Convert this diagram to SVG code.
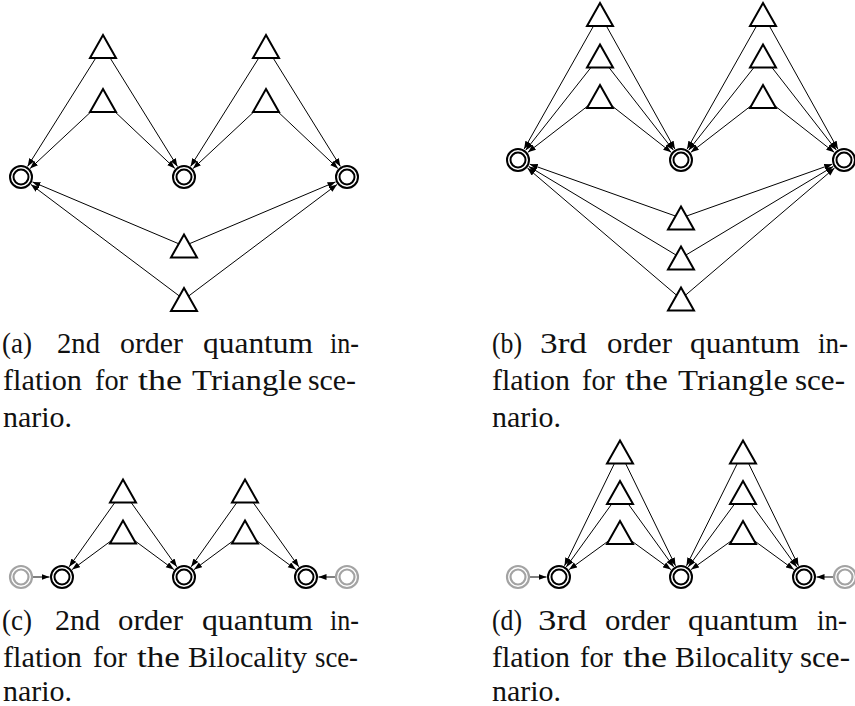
<svg xmlns="http://www.w3.org/2000/svg" xmlns:xlink="http://www.w3.org/1999/xlink" width="855" height="706" viewBox="0 0 855 706">
<style>
.e{stroke:#000;stroke-width:1;fill:none;marker-end:url(#ah)}
.tri{fill:#fff;stroke:#000;stroke-width:2;stroke-linejoin:miter}
.ro{fill:#fff;stroke:#000;stroke-width:2}
.ri{fill:none;stroke:#000;stroke-width:2}
.rog{fill:#fff;stroke:#a3a3a3;stroke-width:2.2}
.rig{fill:none;stroke:#a3a3a3;stroke-width:2.2}
.cap{font-family:'Liberation Serif','Times New Roman',serif;font-size:30px;fill:#111}
</style>
<defs>
<marker id="ah" markerUnits="userSpaceOnUse" markerWidth="9" markerHeight="7" refX="8" refY="3" orient="auto">
<path d="M0,0 L8,3 L0,6 z" fill="#000"/>
</marker>
<path id="tri" class="tri" d="M0,-11.5 L13,11.5 L-13,11.5 Z"/>
<g id="dc"><circle class="ro" r="11"/><circle class="ri" r="7.5"/></g>
<g id="dcg"><circle class="rog" r="11"/><circle class="rig" r="7.5"/></g>
</defs>
<rect width="855" height="706" fill="#fff"/>
<g id="connectors">
<line class="e" x1="103" y1="46.5" x2="27.6" y2="166.4"/>
<line class="e" x1="103" y1="46.5" x2="177.4" y2="166.4"/>
<line class="e" x1="103" y1="100.5" x2="30.1" y2="168.5"/>
<line class="e" x1="103" y1="100.5" x2="174.9" y2="168.4"/>
<line class="e" x1="266" y1="46.5" x2="190.6" y2="166.4"/>
<line class="e" x1="266" y1="46.5" x2="340.4" y2="166.4"/>
<line class="e" x1="266" y1="100.5" x2="193.1" y2="168.5"/>
<line class="e" x1="266" y1="100.5" x2="337.9" y2="168.4"/>
<line class="e" x1="184" y1="246" x2="32.5" y2="181.9"/>
<line class="e" x1="184" y1="246" x2="335.5" y2="181.9"/>
<line class="e" x1="184" y1="299.5" x2="31" y2="184.5"/>
<line class="e" x1="184" y1="299.5" x2="337" y2="184.5"/>
<line class="e" x1="600" y1="14.5" x2="524.1" y2="149.1"/>
<line class="e" x1="600" y1="14.5" x2="674.9" y2="149.1"/>
<line class="e" x1="600" y1="56" x2="525.7" y2="150.2"/>
<line class="e" x1="600" y1="56" x2="673.3" y2="150.1"/>
<line class="e" x1="600" y1="96.5" x2="527.9" y2="152.3"/>
<line class="e" x1="600" y1="96.5" x2="671.2" y2="152.3"/>
<line class="e" x1="763" y1="14.5" x2="687.1" y2="149.1"/>
<line class="e" x1="763" y1="14.5" x2="837.9" y2="149.1"/>
<line class="e" x1="763" y1="56" x2="688.7" y2="150.2"/>
<line class="e" x1="763" y1="56" x2="836.3" y2="150.1"/>
<line class="e" x1="763" y1="96.5" x2="690.9" y2="152.3"/>
<line class="e" x1="763" y1="96.5" x2="834.2" y2="152.3"/>
<line class="e" x1="681" y1="218" x2="529.8" y2="164.2"/>
<line class="e" x1="681" y1="218" x2="832.2" y2="164.2"/>
<line class="e" x1="681" y1="258" x2="528.7" y2="166.4"/>
<line class="e" x1="681" y1="258" x2="833.3" y2="166.4"/>
<line class="e" x1="681" y1="299" x2="527.5" y2="168.1"/>
<line class="e" x1="681" y1="299" x2="834.5" y2="168.1"/>
<line class="e" x1="123" y1="491" x2="69.2" y2="566.8"/>
<line class="e" x1="123" y1="491" x2="176.8" y2="566.8"/>
<line class="e" x1="123" y1="532" x2="72.1" y2="569.6"/>
<line class="e" x1="123" y1="532" x2="173.9" y2="569.6"/>
<line class="e" x1="245" y1="491" x2="191.2" y2="566.8"/>
<line class="e" x1="245" y1="491" x2="298.8" y2="566.8"/>
<line class="e" x1="245" y1="532" x2="194.1" y2="569.6"/>
<line class="e" x1="245" y1="532" x2="295.9" y2="569.6"/>
<line class="e" x1="33" y1="577" x2="49.5" y2="577"/>
<line class="e" x1="335" y1="577" x2="318.5" y2="577"/>
<line class="e" x1="620" y1="452" x2="564.5" y2="565.8"/>
<line class="e" x1="620" y1="452" x2="675.5" y2="565.8"/>
<line class="e" x1="620" y1="492.5" x2="566.3" y2="566.9"/>
<line class="e" x1="620" y1="492.5" x2="673.7" y2="566.9"/>
<line class="e" x1="620" y1="532.5" x2="569.1" y2="569.6"/>
<line class="e" x1="620" y1="532.5" x2="670.9" y2="569.6"/>
<line class="e" x1="743" y1="452" x2="686.5" y2="565.8"/>
<line class="e" x1="743" y1="452" x2="798.5" y2="565.8"/>
<line class="e" x1="743" y1="492.5" x2="688.3" y2="566.9"/>
<line class="e" x1="743" y1="492.5" x2="796.7" y2="566.9"/>
<line class="e" x1="743" y1="532.5" x2="691.1" y2="569.6"/>
<line class="e" x1="743" y1="532.5" x2="793.9" y2="569.6"/>
<line class="e" x1="530" y1="577" x2="546.5" y2="577"/>
<line class="e" x1="833" y1="577" x2="816.5" y2="577"/>
</g>
<g id="a-t1"><use xlink:href="#tri" x="103" y="46.5"/></g>
<g id="a-t2"><use xlink:href="#tri" x="103" y="100.5"/></g>
<g id="a-t3"><use xlink:href="#tri" x="266" y="46.5"/></g>
<g id="a-t4"><use xlink:href="#tri" x="266" y="100.5"/></g>
<g id="a-t5"><use xlink:href="#tri" x="184" y="246"/></g>
<g id="a-t6"><use xlink:href="#tri" x="184" y="299.5"/></g>
<g id="a-c1"><use xlink:href="#dc" x="21" y="177"/></g>
<g id="a-c2"><use xlink:href="#dc" x="184" y="177"/></g>
<g id="a-c3"><use xlink:href="#dc" x="347" y="177"/></g>
<g id="b-t1"><use xlink:href="#tri" x="600" y="14.5"/></g>
<g id="b-t2"><use xlink:href="#tri" x="600" y="56"/></g>
<g id="b-t3"><use xlink:href="#tri" x="600" y="96.5"/></g>
<g id="b-t4"><use xlink:href="#tri" x="763" y="14.5"/></g>
<g id="b-t5"><use xlink:href="#tri" x="763" y="56"/></g>
<g id="b-t6"><use xlink:href="#tri" x="763" y="96.5"/></g>
<g id="b-t7"><use xlink:href="#tri" x="681" y="218"/></g>
<g id="b-t8"><use xlink:href="#tri" x="681" y="258"/></g>
<g id="b-t9"><use xlink:href="#tri" x="681" y="299"/></g>
<g id="b-c1"><use xlink:href="#dc" x="518" y="160"/></g>
<g id="b-c2"><use xlink:href="#dc" x="681" y="160"/></g>
<g id="b-c3"><use xlink:href="#dc" x="844" y="160"/></g>
<g id="c-t1"><use xlink:href="#tri" x="123" y="491"/></g>
<g id="c-t2"><use xlink:href="#tri" x="123" y="532"/></g>
<g id="c-t3"><use xlink:href="#tri" x="245" y="491"/></g>
<g id="c-t4"><use xlink:href="#tri" x="245" y="532"/></g>
<g id="c-g1"><use xlink:href="#dcg" x="21" y="577"/></g>
<g id="c-c1"><use xlink:href="#dc" x="62" y="577"/></g>
<g id="c-c2"><use xlink:href="#dc" x="184" y="577"/></g>
<g id="c-c3"><use xlink:href="#dc" x="306" y="577"/></g>
<g id="c-g2"><use xlink:href="#dcg" x="347" y="577"/></g>
<g id="d-t1"><use xlink:href="#tri" x="620" y="452"/></g>
<g id="d-t2"><use xlink:href="#tri" x="620" y="492.5"/></g>
<g id="d-t3"><use xlink:href="#tri" x="620" y="532.5"/></g>
<g id="d-t4"><use xlink:href="#tri" x="743" y="452"/></g>
<g id="d-t5"><use xlink:href="#tri" x="743" y="492.5"/></g>
<g id="d-t6"><use xlink:href="#tri" x="743" y="532.5"/></g>
<g id="d-g1"><use xlink:href="#dcg" x="518" y="577"/></g>
<g id="d-c1"><use xlink:href="#dc" x="559" y="577"/></g>
<g id="d-c2"><use xlink:href="#dc" x="681" y="577"/></g>
<g id="d-c3"><use xlink:href="#dc" x="804" y="577"/></g>
<g id="d-g2"><use xlink:href="#dcg" x="845" y="577"/></g>
<g id="cap-a" class="cap" font-family="Liberation Serif, serif">
<text x="2" y="353" textLength="30" lengthAdjust="spacingAndGlyphs">(a)</text>
<text x="57" y="353" textLength="43" lengthAdjust="spacingAndGlyphs">2nd</text>
<text x="120" y="353" textLength="63" lengthAdjust="spacingAndGlyphs">order</text>
<text x="203" y="353" textLength="110" lengthAdjust="spacingAndGlyphs">quantum</text>
<text x="330" y="353" textLength="29" lengthAdjust="spacingAndGlyphs">in-</text>
<text x="3" y="390" textLength="79" lengthAdjust="spacingAndGlyphs">flation</text>
<text x="95" y="390" textLength="33" lengthAdjust="spacingAndGlyphs">for</text>
<text x="138" y="390" textLength="44" lengthAdjust="spacingAndGlyphs">the</text>
<text x="192" y="390" textLength="110" lengthAdjust="spacingAndGlyphs">Triangle</text>
<text x="308" y="390" textLength="48" lengthAdjust="spacingAndGlyphs">sce-</text>
<text x="3" y="427" textLength="69" lengthAdjust="spacingAndGlyphs">nario.</text>
</g>
<g id="cap-b" class="cap" font-family="Liberation Serif, serif">
<text x="492" y="353" textLength="30" lengthAdjust="spacingAndGlyphs">(b)</text>
<text x="540" y="353" textLength="47" lengthAdjust="spacingAndGlyphs">3rd</text>
<text x="607" y="353" textLength="65" lengthAdjust="spacingAndGlyphs">order</text>
<text x="690" y="353" textLength="110" lengthAdjust="spacingAndGlyphs">quantum</text>
<text x="818" y="353" textLength="30" lengthAdjust="spacingAndGlyphs">in-</text>
<text x="492" y="390" textLength="78" lengthAdjust="spacingAndGlyphs">flation</text>
<text x="582" y="390" textLength="33" lengthAdjust="spacingAndGlyphs">for</text>
<text x="625" y="390" textLength="43" lengthAdjust="spacingAndGlyphs">the</text>
<text x="678" y="390" textLength="110" lengthAdjust="spacingAndGlyphs">Triangle</text>
<text x="795" y="390" textLength="50" lengthAdjust="spacingAndGlyphs">sce-</text>
<text x="492" y="427" textLength="69" lengthAdjust="spacingAndGlyphs">nario.</text>
</g>
<g id="cap-c" class="cap" font-family="Liberation Serif, serif">
<text x="2" y="630" textLength="30" lengthAdjust="spacingAndGlyphs">(c)</text>
<text x="55" y="630" textLength="45" lengthAdjust="spacingAndGlyphs">2nd</text>
<text x="118" y="630" textLength="65" lengthAdjust="spacingAndGlyphs">order</text>
<text x="202" y="630" textLength="111" lengthAdjust="spacingAndGlyphs">quantum</text>
<text x="330" y="630" textLength="29" lengthAdjust="spacingAndGlyphs">in-</text>
<text x="3" y="667" textLength="79" lengthAdjust="spacingAndGlyphs">flation</text>
<text x="93" y="667" textLength="34" lengthAdjust="spacingAndGlyphs">for</text>
<text x="137" y="667" textLength="43" lengthAdjust="spacingAndGlyphs">the</text>
<text x="188" y="667" textLength="119" lengthAdjust="spacingAndGlyphs">Bilocality</text>
<text x="315" y="667" textLength="43" lengthAdjust="spacingAndGlyphs">sce-</text>
<text x="3" y="701" textLength="69" lengthAdjust="spacingAndGlyphs">nario.</text>
</g>
<g id="cap-d" class="cap" font-family="Liberation Serif, serif">
<text x="492" y="630" textLength="30" lengthAdjust="spacingAndGlyphs">(d)</text>
<text x="538" y="630" textLength="49" lengthAdjust="spacingAndGlyphs">3rd</text>
<text x="605" y="630" textLength="65" lengthAdjust="spacingAndGlyphs">order</text>
<text x="688" y="630" textLength="110" lengthAdjust="spacingAndGlyphs">quantum</text>
<text x="817" y="630" textLength="30" lengthAdjust="spacingAndGlyphs">in-</text>
<text x="492" y="667" textLength="78" lengthAdjust="spacingAndGlyphs">flation</text>
<text x="580" y="667" textLength="33" lengthAdjust="spacingAndGlyphs">for</text>
<text x="623" y="667" textLength="44" lengthAdjust="spacingAndGlyphs">the</text>
<text x="675" y="667" textLength="118" lengthAdjust="spacingAndGlyphs">Bilocality</text>
<text x="800" y="667" textLength="50" lengthAdjust="spacingAndGlyphs">sce-</text>
<text x="492" y="701" textLength="69" lengthAdjust="spacingAndGlyphs">nario.</text>
</g>
</svg>
